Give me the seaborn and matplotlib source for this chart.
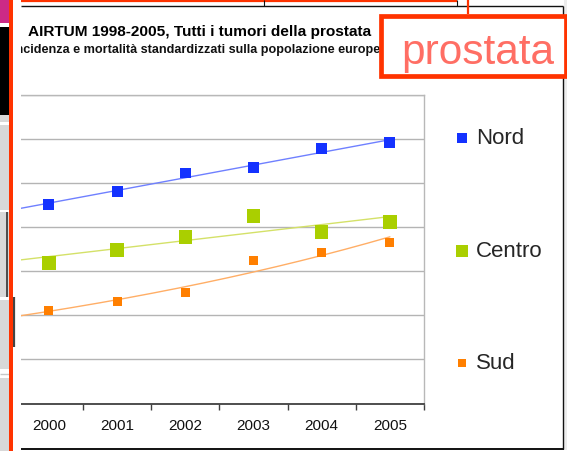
import numpy as np
import pandas as pd
import matplotlib
matplotlib.use("Agg")
import matplotlib.pyplot as plt
import seaborn as sns
from matplotlib.patches import Rectangle
from matplotlib.lines import Line2D
from matplotlib import font_manager

# ---------------- data ----------------
years = ["2000", "2001", "2002", "2003", "2004", "2005"]
nord = [90.1, 96.4, 104.6, 106.9, 115.6, 118.4]
centro = [63.8, 69.7, 75.6, 85.1, 77.9, 82.4]
sud = [42.4, 46.1, 50.2, 64.7, 68.4, 72.9]
series_names = ["Nord", "Centro", "Sud"]
title = "AIRTUM 1998-2005, Tutti i tumori della prostata"
subtitle = "incidenza e mortalità standardizzati sulla popolazione europea"
badge = "prostata"

# ---------------- style ----------------
sns.set_theme(style="white")
plt.rcParams['font.family'] = ['Liberation Sans', 'DejaVu Sans']

W, H = 567, 451
fig = plt.figure(figsize=(W / 100, H / 100), dpi=100)
fig.patch.set_facecolor("white")


def fx(px):
    return px / W


def fy(py):
    return 1 - py / H


def rect(x0, y0, x1, y1, color, z, **kw):
    r = Rectangle((fx(x0), fy(y1)), fx(x1) - fx(x0), fy(y0) - fy(y1),
                  transform=fig.transFigure, facecolor=color,
                  edgecolor=kw.pop("edgecolor", "none"), zorder=z, **kw)
    fig.add_artist(r)
    return r


def hline(x0, x1, y, color, lw, z):
    fig.add_artist(Line2D([fx(x0), fx(x1)], [fy(y), fy(y)], transform=fig.transFigure,
                          color=color, lw=lw, zorder=z, solid_capstyle="butt"))


def vline(x, y0, y1, color, lw, z):
    fig.add_artist(Line2D([fx(x), fx(x)], [fy(y0), fy(y1)], transform=fig.transFigure,
                          color=color, lw=lw, zorder=z, solid_capstyle="butt"))


# ---------------- chart ----------------
ax = fig.add_axes([fx(14.8), fy(403.5), fx(424) - fx(14.8), fy(95) - fy(403.5)])
ax.set_facecolor("white")

x = np.arange(len(years))
df = pd.DataFrame({
    "x": np.tile(x, 3),
    "val": nord + centro + sud,
    "serie": np.repeat(series_names, len(years)),
})

colors = {"Nord": "#1432FF", "Centro": "#AACF00", "Sud": "#FF7F00"}
trend_colors = {"Nord": "#6F80FF", "Centro": "#D4E168", "Sud": "#FFAE66"}
sizes = {"Nord": 62, "Centro": 94, "Sud": 42}

xs = np.linspace(-0.5, 5, 200)
fits = {
    "Nord": np.polyval(np.polyfit(x, nord, 1), xs),
    "Centro": np.polyval(np.polyfit(x, centro, 1), xs),
    "Sud": np.exp(np.polyval(np.polyfit(x, np.log(sud), 1), xs)),
}
for name in series_names:
    sns.lineplot(x=xs, y=fits[name], color=trend_colors[name], lw=1.0, ax=ax,
                 zorder=2, legend=False)
for name in series_names:
    sub = df[df["serie"] == name]
    sns.scatterplot(data=sub, x="x", y="val", marker="s", s=sizes[name],
                    color=colors[name], edgecolor="none", linewidth=0,
                    label=name, ax=ax, zorder=3)

ax.set_xlim(-0.5, 5.5)
ax.set_ylim(0, 140)
ax.set_yticks(np.arange(0, 141, 20))
ax.yaxis.grid(True, color="#b4b4b4", lw=1.0)
ax.xaxis.grid(False)
ax.set_axisbelow(True)
ax.tick_params(axis="y", length=0, labelleft=False)
ax.set_xticks(x)
ax.set_xticklabels(years)
ax.set_xticks(np.arange(-0.5, 6, 1), minor=True)
ax.tick_params(axis="x", which="major", length=0, pad=11.5, labelsize=11,
               labelcolor="#111111")
ax.tick_params(axis="x", which="minor", bottom=True, length=4.5, width=1.0,
               direction="out", color="#404040")
ax.set_xlabel("")
ax.set_ylabel("")
for s in ["top", "right"]:
    ax.spines[s].set_visible(True)
    ax.spines[s].set_color("#b8b8b8")
    ax.spines[s].set_linewidth(1.0)
ax.spines["left"].set_visible(False)
ax.spines["bottom"].set_color("#404040")
ax.spines["bottom"].set_linewidth(1.3)

leg = ax.legend(loc="upper left", bbox_to_anchor=(fx(454), fy(128)),
                bbox_transform=fig.transFigure, frameon=False, fontsize=16,
                labelspacing=4.12, handletextpad=0.3, handlelength=0.7,
                borderpad=0, borderaxespad=0, markerscale=0.92)

# ---------------- titles ----------------
fig.text(fx(27.5), fy(36), title, fontsize=11.1, fontweight="bold",
         color="black", va="baseline", ha="left", zorder=3)
renderer = fig.canvas.get_renderer()
sub_size = 9.1
probe = fig.text(0, 0, "in", fontsize=sub_size, fontweight="bold")
w_in = probe.get_window_extent(renderer).width
probe.remove()
fig.text(fx(23.5 - w_in), fy(53), subtitle, fontsize=sub_size, fontweight="bold",
         color="#111111", va="baseline", ha="left", zorder=3)

# ---------------- slide decorations ----------------
# left clip band (white) over chart / subtitle
rect(13.3, 0, 20.7, 451, "white", 5)
# left panel
rect(0, 0, 8.5, 451, "#d8d8d8", 5)
rect(0, 0, 8.5, 23, "#CC2A86", 5)
rect(0, 23, 8.5, 27, "white", 5)
rect(0, 27, 8.5, 115, "black", 5)
rect(0, 122, 8.5, 124.5, "white", 5)
rect(0, 209.5, 8.5, 212, "white", 5)
rect(0, 296.5, 8.5, 299.5, "white", 5)
rect(0, 369, 8.5, 378, "white", 5)
hline(0, 8.5, 373.5, "#c8c8c8", 1.0, 6)
vline(7.0, 212, 297, "#333333", 1.2, 6)
vline(14.2, 297, 347, "#444444", 1.6, 6)
# red vertical bar
rect(8.5, 0, 13.3, 451, "#FF3300", 6)
# top lines
hline(20.7, 457, 0.8, "#FF3300", 1.6, 6)
hline(20.7, 563, 6.3, "#111111", 1.0, 6)
vline(264, 0, 6.3, "#111111", 0.8, 6)
vline(457, 0, 6.3, "#111111", 0.8, 6)
vline(467.5, 0, 14, "#FF3300", 1.6, 6)
# right and bottom frame
rect(564, 0, 567, 451, "#ececec", 5)
vline(563.3, 6.3, 449, "#111111", 1.0, 6)
hline(20.7, 563.8, 448.8, "#111111", 1.4, 6)
rect(20.7, 449.6, 567, 451, "white", 5)

# prostata badge
rect(380.8, 16.3, 565.5, 76.2, "white", 7, edgecolor="#FF3300", linewidth=3.4)
names = {f.name for f in font_manager.fontManager.ttflist}
if "Liberation Sans Narrow" in names:
    bfont, bsize = "Liberation Sans Narrow", 35
else:
    bfont, bsize = "Liberation Sans", 30.5
fig.text(fx(478), fy(63.5), badge, fontsize=bsize, family=bfont,
         color="#FF6E64", ha="center", va="baseline", zorder=8)

fig.savefig("out.png", dpi=100)
